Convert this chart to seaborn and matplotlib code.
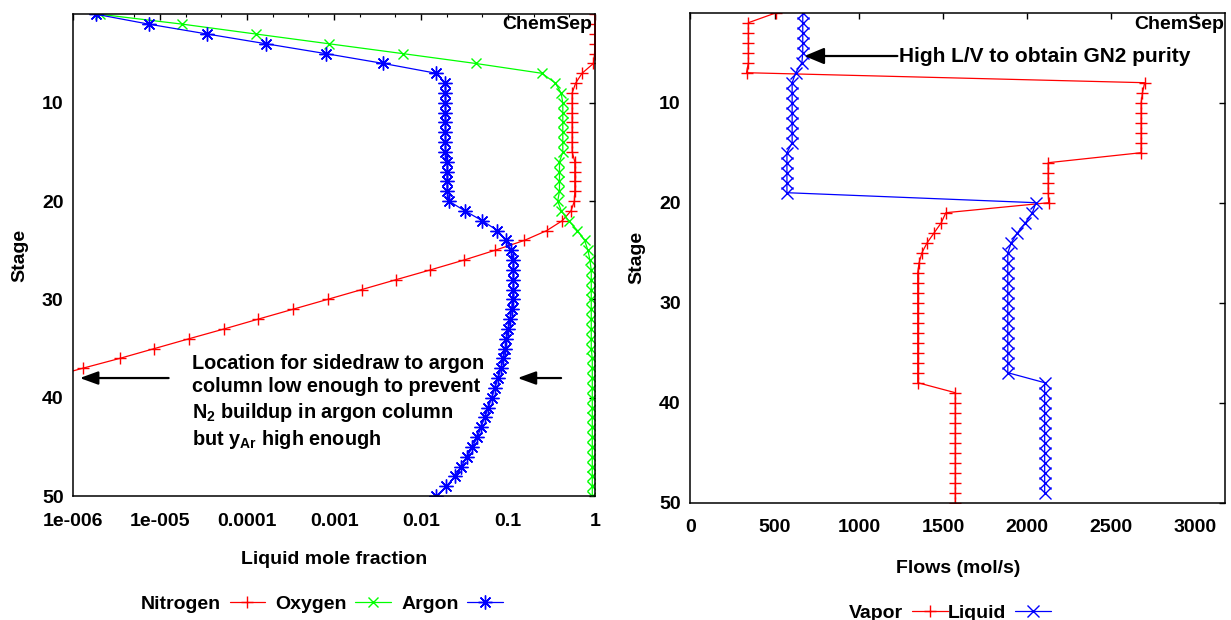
import seaborn as sns
import matplotlib.pyplot as plt
import matplotlib.ticker as mticker
import numpy as np
import pandas as pd

STAGES = list(range(1, 51))
NAN = np.nan

# liquid mole fractions per stage (left panel)
NITROGEN = [0.995, 0.995, 0.995, 0.993, 0.99, 0.96, 0.71, 0.60, 0.547, 0.547,
            0.547, 0.547, 0.547, 0.547, 0.547, 0.587, 0.587, 0.587, 0.587, 0.58,
            0.53, 0.42, 0.279, 0.154, 0.0711, 0.0311, 0.0128, 0.00514, 0.00208, 8.4e-4,
            3.37e-4, 1.35e-4, 5.47e-5, 2.15e-5, 8.6e-6, 3.43e-6, 1.29e-6, 5.0e-7, NAN, NAN,
            NAN, NAN, NAN, NAN, NAN, NAN, NAN, NAN, NAN, NAN]
OXYGEN = [2.05e-6, 1.8e-5, 1.25e-4, 8.8e-4, 6.2e-3, 0.0425, 0.246, 0.351, 0.408, 0.427,
          0.427, 0.427, 0.427, 0.427, 0.427, 0.391, 0.391, 0.391, 0.391, 0.373,
          0.41, 0.50, 0.63, 0.76, 0.83, 0.875, 0.907, 0.907, 0.907, 0.907,
          0.907, 0.907, 0.907, 0.907, 0.907, 0.932, 0.932, 0.932, 0.932, 0.932,
          0.932, 0.932, 0.932, 0.932, 0.932, 0.932, 0.932, 0.932, 0.932, 0.932]
ARGON = [1.85e-6, 7.4e-6, 3.45e-5, 1.66e-4, 8.05e-4, 3.7e-3, 0.0150, 0.0191, 0.0191, 0.0191,
         0.0191, 0.0191, 0.0191, 0.0191, 0.0191, 0.0200, 0.0200, 0.0200, 0.0200, 0.0209,
         0.032, 0.0507, 0.0757, 0.096, 0.108, 0.115, 0.115, 0.115, 0.115, 0.113,
         0.110, 0.106, 0.101, 0.096, 0.093, 0.088, 0.083, 0.077, 0.0705, 0.065,
         0.0595, 0.054, 0.049, 0.0445, 0.039, 0.034, 0.029, 0.0245, 0.0196, 0.015]

# flows per stage (right panel), mol/s
VAPOR = [510, 344, 344, 344, 344, 344, 333, 2698, 2685, 2677,
         2677, 2677, 2677, 2677, 2677, 2125, 2125, 2125, 2125, 2128,
         1517, 1490, 1448, 1406, 1375, 1358, 1350, 1350, 1350, 1350,
         1350, 1350, 1350, 1350, 1350, 1350, 1350, 1350, 1573, 1573,
         1573, 1573, 1573, 1573, 1573, 1573, 1573, 1573, 1573, 1573]
LIQUID = [667, 667, 667, 667, 667, 662, 625, 604, 604, 604,
          604, 604, 604, 604, 573, 573, 573, 573, 573, 2052,
          2031, 1990, 1942, 1906, 1885, 1885, 1885, 1885, 1885, 1885,
          1885, 1885, 1885, 1885, 1885, 1885, 1885, 2104, 2104, 2104,
          2104, 2104, 2104, 2104, 2104, 2104, 2104, 2104, 2104]

X1_TICKS = [1e-6, 1e-5, 1e-4, 1e-3, 1e-2, 1e-1, 1]
X1_LABELS = ['1e-006', '1e-005', '0.0001', '0.001', '0.01', '0.1', '1']
X2_TICKS = [0, 500, 1000, 1500, 2000, 2500, 3000]
Y_TICKS = [10, 20, 30, 40, 50]

sns.set_style('white')
plt.rcParams['font.family'] = ['Liberation Sans', 'DejaVu Sans']
plt.rcParams['font.weight'] = 'bold'
plt.rcParams['axes.labelweight'] = 'bold'
plt.rcParams['text.color'] = 'black'
plt.rcParams['axes.labelcolor'] = 'black'
plt.rcParams['xtick.color'] = 'black'
plt.rcParams['ytick.color'] = 'black'
plt.rcParams['mathtext.fontset'] = 'custom'
plt.rcParams['mathtext.rm'] = 'Liberation Sans:bold'
plt.rcParams['mathtext.bf'] = 'Liberation Sans:bold'
plt.rcParams['mathtext.default'] = 'bf'

FS = 14

fig = plt.figure(figsize=(12.31, 6.2), dpi=100)
ax1 = fig.add_axes([0.0595, 0.2, 0.4238, 0.7769])
ax2 = fig.add_axes([0.5609, 0.1892, 0.4342, 0.7903])

# ---- left panel: liquid composition
ax1.set_xscale('log')
comp = pd.DataFrame({'stage': STAGES, 'Nitrogen': NITROGEN,
                     'Oxygen': OXYGEN, 'Argon': ARGON})
styles1 = [('Nitrogen', '#ff0000', '+', 9), ('Oxygen', '#00ff00', 'x', 7),
           ('Argon', '#0000ff', (8, 2, 0), 10)]
for name, color, marker, ms in styles1:
    sns.lineplot(data=comp, x=name, y='stage', sort=False, estimator=None,
                 color=color, marker=marker, markersize=ms,
                 markeredgecolor=color, markeredgewidth=1.0, lw=0.9,
                 label=name, legend=False, ax=ax1)

ax1.set_xlim(1e-6, 1)
ax1.set_ylim(50, 1)
ax1.set_xticks(X1_TICKS, labels=X1_LABELS)
ax1.xaxis.set_minor_locator(mticker.LogLocator(base=10, subs=(2, 5)))
ax1.xaxis.set_minor_formatter(mticker.NullFormatter())
ax1.set_xlabel('Liquid mole fraction', fontsize=FS, labelpad=15)

arrow = dict(arrowstyle='-|>,head_length=0.55,head_width=0.2', color='black',
             lw=1.6, mutation_scale=20, shrinkA=0, shrinkB=0)
ax1.annotate('', xy=(1.19e-6, 38), xytext=(1.25e-5, 38), arrowprops=arrow)
ax1.annotate('', xy=(0.129, 38), xytext=(0.408, 38), arrowprops=arrow)
ax1.text(2.3e-5, 40.5,
         'Location for sidedraw to argon\ncolumn low enough to prevent\n'
         'N$_2$ buildup in argon column\nbut y$_{Ar}$ high enough',
         fontsize=14.3, va='center', ha='left', linespacing=1.28)
ax1.text(0.995, 0.979, 'ChemSep', transform=ax1.transAxes, fontsize=FS,
         ha='right', va='center')

h1 = ax1.get_lines()[:3]
fig.legend(h1, [s[0] for s in styles1], loc='center',
           bbox_to_anchor=(322 / 1231, 1 - 604 / 620), ncol=3, frameon=False,
           markerfirst=False, handlelength=1.85, handletextpad=0.45,
           columnspacing=0.5, fontsize=FS)

# ---- right panel: flows
flows = pd.DataFrame({'stage': STAGES, 'Vapor': VAPOR,
                      'Liquid': LIQUID + [NAN]})
styles2 = [('Vapor', '#ff0000', '+', 9), ('Liquid', '#0000ff', 'x', 8)]
for name, color, marker, ms in styles2:
    sns.lineplot(data=flows, x=name, y='stage', sort=False, estimator=None,
                 color=color, marker=marker, markersize=ms,
                 markeredgecolor=color, markeredgewidth=1.0, lw=0.9,
                 label=name, legend=False, ax=ax2)

ax2.set_xlim(0, 3175)
ax2.set_ylim(50, 1)
ax2.set_xticks(X2_TICKS)
ax2.set_xlabel('Flows (mol/s)', fontsize=FS, labelpad=17)

ax2.annotate('', xy=(677, 5.33), xytext=(1229, 5.33),
             arrowprops=dict(arrowstyle='-|>,head_length=0.6,head_width=0.25',
                             color='black', lw=1.6, mutation_scale=20,
                             shrinkA=0, shrinkB=0))
ax2.text(1240, 5.33, 'High L/V to obtain GN2 purity', fontsize=15,
         va='center', ha='left')
ax2.text(0.998, 0.975, 'ChemSep', transform=ax2.transAxes, fontsize=FS,
         ha='right', va='center')

h2 = ax2.get_lines()[:2]
fig.legend(h2, [s[0] for s in styles2], loc='center',
           bbox_to_anchor=(950 / 1231, 1 - 613 / 620), ncol=2, frameon=False,
           markerfirst=False, handlelength=1.85, handletextpad=0.45,
           columnspacing=0.0, fontsize=FS)

for ax in (ax1, ax2):
    ax.set_yticks(Y_TICKS)
    ax.set_ylabel('Stage', fontsize=FS, labelpad=10)
    ax.tick_params(which='both', direction='in', top=True, right=True,
                   labelsize=FS, color='black')
    ax.tick_params(which='major', length=4.5, width=1.0)
    ax.tick_params(which='minor', length=2.5, width=0.8)
    ax.tick_params(axis='x', pad=12)
    ax.tick_params(axis='y', pad=7)
    for sp in ax.spines.values():
        sp.set_color('black')
        sp.set_linewidth(1.1)
    for lbl in ax.get_xticklabels() + ax.get_yticklabels():
        lbl.set_fontweight('bold')

fig.savefig('out.png', dpi=100)
